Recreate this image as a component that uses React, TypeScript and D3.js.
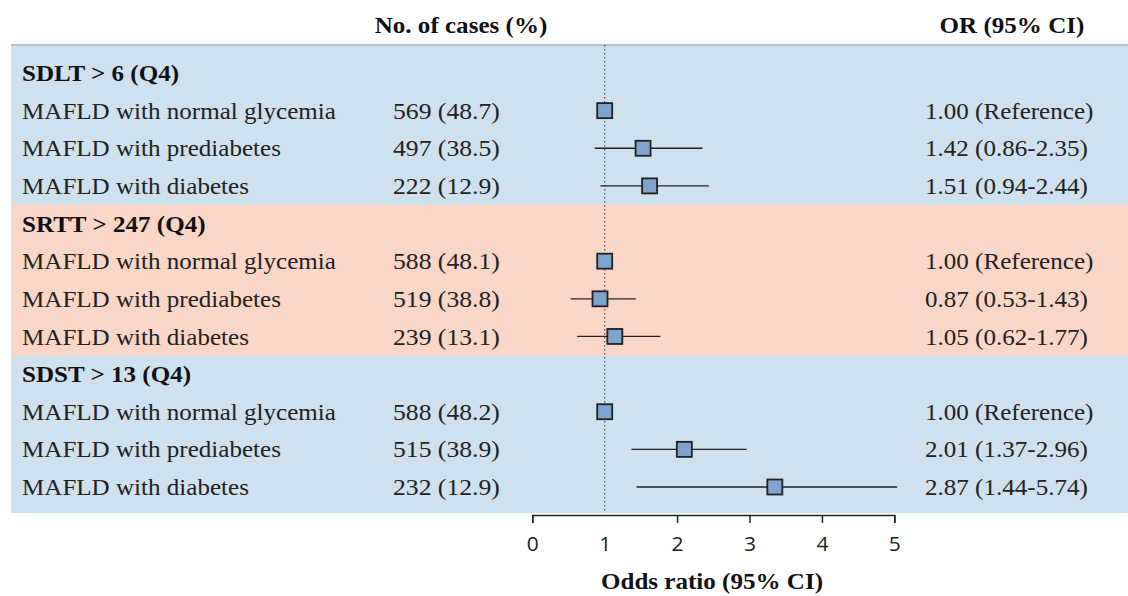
import React, { useEffect, useRef } from "react";
import * as d3 from "d3";

// groups and rows, top to bottom
const groups = ["SDLT > 6 (Q4)", "SRTT > 247 (Q4)", "SDST > 13 (Q4)"];
const rowLabels = [
  "MAFLD with normal glycemia",
  "MAFLD with prediabetes",
  "MAFLD with diabetes",
];
const cases = [
  ["569 (48.7)", "497 (38.5)", "222 (12.9)"],
  ["588 (48.1)", "519 (38.8)", "239 (13.1)"],
  ["588 (48.2)", "515 (38.9)", "232 (12.9)"],
];
const orText = [
  ["1.00 (Reference)", "1.42 (0.86-2.35)", "1.51 (0.94-2.44)"],
  ["1.00 (Reference)", "0.87 (0.53-1.43)", "1.05 (0.62-1.77)"],
  ["1.00 (Reference)", "2.01 (1.37-2.96)", "2.87 (1.44-5.74)"],
];
// square positions as drawn in the figure
const estimates = [
  [1.0, 1.53, 1.62],
  [1.0, 0.935, 1.14],
  [1.0, 2.1, 3.35],
];
const ciLow = [
  [null, 0.86, 0.94],
  [null, 0.53, 0.62],
  [null, 1.37, 1.44],
];
const ciHigh = [
  [null, 2.35, 2.44],
  [null, 1.43, 1.77],
  [null, 2.96, 5.04],
];
const bandColors = ["#cfe0ee", "#f9d6c7", "#cfe0ee"];
const ticks = [0, 1, 2, 3, 4, 5];

const W = 1128;
const H = 596;
const serif = "'Liberation Serif', 'Times New Roman', serif";

// the figure's text is a little stretched sideways
const T = ({ x, y, children, bold = false, anchor = "start", size = 23, sx = 1.09 }: any) => (
  <text
    transform={`translate(${x},${y}) scale(${sx},1)`}
    dy="0.35em"
    textAnchor={anchor}
    fontFamily={serif}
    fontWeight={bold ? "bold" : "normal"}
    fontSize={size}
    fill={bold ? "#111" : "#222"}
  >
    {children}
  </text>
);

const App = () => {
  const axisRef = useRef<SVGGElement>(null);

  const x = d3.scaleLinear().domain([0, 5]).range([532.3, 894.3]);
  // 12 rows: a title row + 3 rows per group
  const y = d3.scaleLinear().domain([0, 11]).range([73, 487]);
  const step = y(1) - y(0);

  useEffect(() => {
    const g = d3.select(axisRef.current);
    g.selectAll("*").remove();
    g.call(
      d3
        .axisBottom(x)
        .tickValues(ticks)
        .tickFormat(d3.format("d"))
        .tickSize(8)
        .tickPadding(14)
    );
    g.select(".domain").attr("stroke", "#222").attr("stroke-width", 1.5);
    g.selectAll(".tick line")
      .attr("stroke", "#222")
      .attr("stroke-width", 1.5)
      .attr("opacity", (d) => (d === 1 ? 0 : 1));
    g.selectAll(".tick text")
      .attr("font-family", "'Open Sans', 'DejaVu Sans', sans-serif")
      .attr("font-size", 20)
      .attr("fill", "#222")
      .attr("transform", "scale(1.05,1)");
  });

  const bandTop = (gi: number) => (gi === 0 ? 45 : y(gi * 4) - step / 2);
  const bandBottom = (gi: number) =>
    gi === groups.length - 1 ? 513 : y((gi + 1) * 4) - step / 2;

  return (
    <svg
      width={W}
      height={H}
      style={{ position: "absolute", left: 0, top: 0, background: "#fff" }}
    >
      {groups.map((grp, gi) => (
        <rect
          key={"b" + gi}
          x={11}
          y={bandTop(gi)}
          width={W - 11}
          height={bandBottom(gi) - bandTop(gi)}
          fill={bandColors[gi]}
        />
      ))}
      <line x1={11} x2={W} y1={45} y2={45} stroke="#b5bfc6" strokeWidth={2} />

      <T x={461} y={25} bold anchor="middle">
        No. of cases (%)
      </T>
      <T x={1012} y={25} bold anchor="middle">
        OR (95% CI)
      </T>

      <line
        x1={x(1)}
        x2={x(1)}
        y1={45}
        y2={513}
        stroke="#555"
        strokeWidth={1.2}
        strokeDasharray="1.5,2.5"
      />

      {groups.map((grp, gi) => {
        const base = gi * 4;
        return (
          <g key={"g" + gi}>
            <T x={22} y={y(base)} bold>
              {grp}
            </T>
            {rowLabels.map((lab, ri) => {
              const yy = y(base + 1 + ri);
              const lo = ciLow[gi][ri];
              const hi = ciHigh[gi][ri];
              const est = estimates[gi][ri];
              return (
                <g key={"r" + ri}>
                  <T x={22} y={yy}>
                    {lab}
                  </T>
                  <T x={393} y={yy} sx={1.115}>
                    {cases[gi][ri]}
                  </T>
                  <T x={925} y={yy}>
                    {orText[gi][ri]}
                  </T>
                  {lo !== null && hi !== null && (
                    <line
                      x1={x(lo)}
                      x2={x(hi)}
                      y1={yy}
                      y2={yy}
                      stroke="#222"
                      strokeWidth={1.3}
                    />
                  )}
                  <rect
                    x={x(est) - 7.5}
                    y={yy - 7.5}
                    width={15}
                    height={15}
                    fill="#7ea3cc"
                    stroke="#222"
                    strokeWidth={1.8}
                  />
                </g>
              );
            })}
          </g>
        );
      })}

      <g ref={axisRef} transform="translate(0,515)" />
      <T x={712} y={581} bold anchor="middle">
        Odds ratio (95% CI)
      </T>
    </svg>
  );
};

export default App;
